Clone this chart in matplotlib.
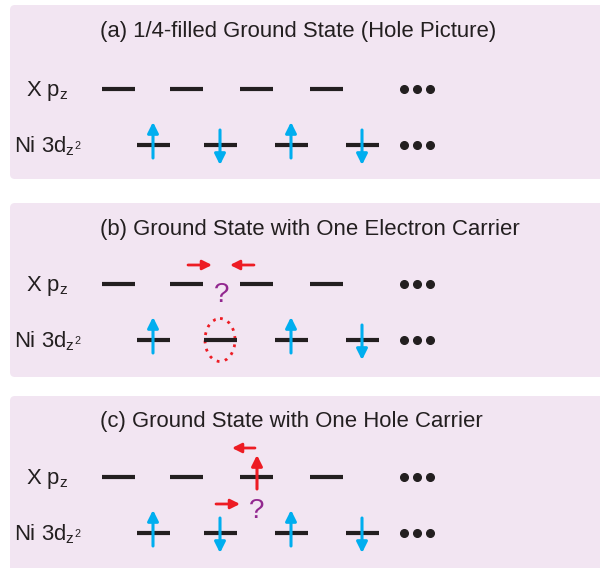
import matplotlib
matplotlib.use('Agg')
import matplotlib.pyplot as plt
from matplotlib.patches import FancyBboxPatch, Ellipse

plt.rcParams['font.family'] = ['Liberation Sans', 'DejaVu Sans']
plt.rcParams['mathtext.fontset'] = 'custom'
plt.rcParams['mathtext.rm'] = 'Liberation Sans'
plt.rcParams['mathtext.it'] = 'Liberation Sans'

# panel content
panel_titles = ['(a) 1/4-filled Ground State (Hole Picture)',
                '(b) Ground State with One Electron Carrier',
                '(c) Ground State with One Hole Carrier']
row_labels = ['X p$_z$', 'Ni 3d$_{z^2}$']
# Ni spins per site: 1 = up, -1 = down, 0 = empty (marked)
ni_spins = [[1, -1, 1, -1],
            [1, 0, 1, -1],
            [1, -1, 1, -1]]

# colours
bg = '#f2e5f2'
dark = '#231f20'
cyan = '#00aeef'
red = '#ed1c24'
purple = '#92278f'

fig = plt.figure(figsize=(6, 5.68), dpi=100)
ax = fig.add_axes([0, 0, 1, 1])
ax.set_xlim(0, 600)
ax.set_ylim(568, 0)
ax.axis('off')

panel_top = [5, 203, 396]
panel_h = 174
x_p = [118, 186.5, 256.5, 326.5]
x_ni = [153, 220, 291, 362]
half = 16.5


def arrow(x0, y0, x1, y1, c, lw=2.2, ms=16):
    ax.annotate('', xy=(x1, y1), xytext=(x0, y0),
                arrowprops=dict(arrowstyle='-|>', color=c, lw=lw,
                                mutation_scale=ms, shrinkA=0, shrinkB=0))


for k, top in enumerate(panel_top):
    ax.add_patch(FancyBboxPatch((10, top), 620, panel_h if k < 2 else 200,
                                boxstyle='round,pad=0,rounding_size=5',
                                fc=bg, ec='none'))
    ax.text(100, top + 26, panel_titles[k], fontsize=15.9, color=dark,
            va='center', ha='left')
    yp = top + 84 if k == 0 else top + 81
    yn = yp + 56
    ax.text(26, yp + 2, row_labels[0], fontsize=15.9, color=dark, va='center')
    ax.text(14, yn + 1, row_labels[1], fontsize=15.9, color=dark, va='center')
    for x in x_p:
        ax.plot([x - half, x + half], [yp, yp], color=dark, lw=3, solid_capstyle='butt')
    for x in x_ni:
        ax.plot([x - half, x + half], [yn, yn], color=dark, lw=3, solid_capstyle='butt')
    for y in (yp, yn):
        ax.plot([404, 417, 430], [y, y, y], 'o', color=dark, ms=5.5)
    for x, s in zip(x_ni, ni_spins[k]):
        if s == 1:
            arrow(x, yn + 13, x, yn - 23, cyan)
        elif s == -1:
            arrow(x, yn - 15, x, yn + 20, cyan)
        else:
            ax.add_patch(Ellipse((x, yn), 30, 43, fill=False, ec=red, lw=2,
                                 ls=(0, (1, 2))))
    if k == 1:
        arrow(188, yp - 19, 212, yp - 19, red, 2, 14)
        arrow(254, yp - 19, 230, yp - 19, red, 2, 14)
        ax.text(222, yp + 11, '?', fontsize=20, color=purple, ha='center', va='center')
    if k == 2:
        arrow(257, yp + 12, 257, yp - 22, red)
        arrow(255, yp - 29, 232, yp - 29, red, 2, 14)
        arrow(216, yp + 27, 240, yp + 27, red, 2, 14)
        ax.text(257, yp + 34, '?', fontsize=20, color=purple, ha='center', va='center')

fig.savefig('out.png', dpi=100, facecolor='white')
